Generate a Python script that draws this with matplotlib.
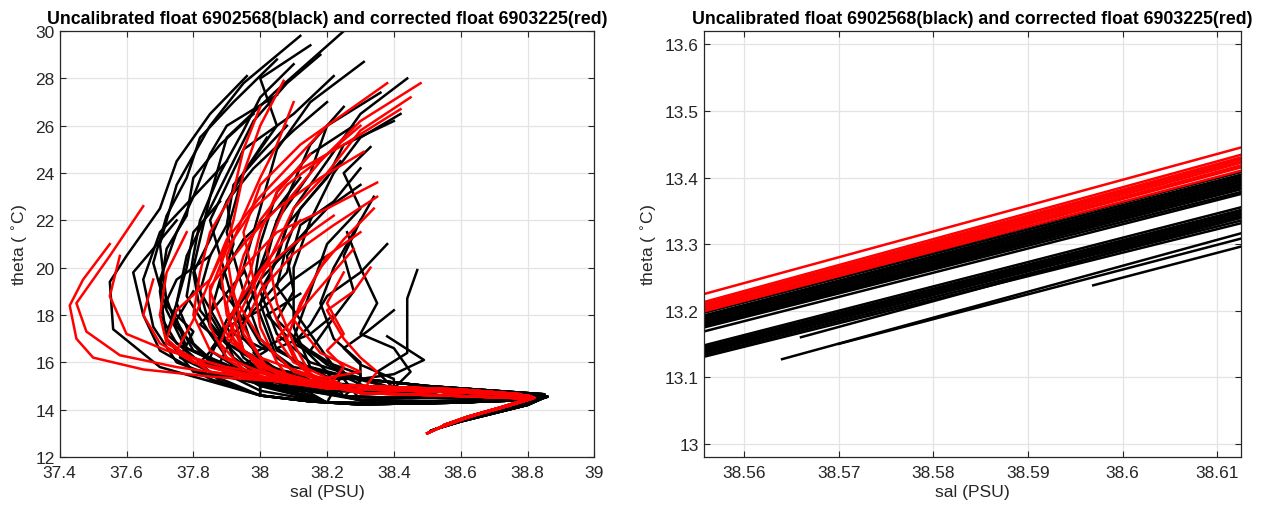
import numpy as np
import matplotlib.pyplot as plt
from matplotlib.ticker import FuncFormatter

plt.rcParams['font.family'] = ['Liberation Sans', 'DejaVu Sans']

# ---- deep tails (LIW core -> deep water), sal / theta pairs ----
tails_black = {
    'k1': [(38.35, 14.75), (38.55, 14.6), (38.75, 14.55), (38.85, 14.6), (38.80, 14.3), (38.68, 13.85), (38.58, 13.45), (38.51, 13.1)],
    'k2': [(38.30, 14.4), (38.50, 14.35), (38.70, 14.4), (38.84, 14.5), (38.78, 14.2), (38.66, 13.8), (38.57, 13.42), (38.52, 13.15)],
    'k3': [(38.25, 14.55), (38.45, 14.5), (38.65, 14.5), (38.82, 14.6), (38.76, 14.25), (38.65, 13.8), (38.56, 13.4)],
    'k4': [(38.40, 14.9), (38.60, 14.7), (38.80, 14.65), (38.86, 14.55), (38.79, 14.22), (38.67, 13.78), (38.58, 13.43)],
    'k5': [(38.20, 14.3), (38.40, 14.25), (38.60, 14.3), (38.80, 14.45), (38.83, 14.4), (38.74, 14.1), (38.62, 13.62)],
    'k6': [(38.00, 14.6), (38.15, 14.35), (38.30, 14.22), (38.50, 14.28), (38.70, 14.35), (38.84, 14.45), (38.80, 14.2), (38.70, 13.85), (38.60, 13.5), (38.53, 13.2)],
    'k7': [(38.30, 15.3), (38.50, 15.0), (38.70, 14.8), (38.85, 14.65), (38.80, 14.35), (38.68, 13.9)],
}
tails_red = {
    'r1': [(38.20, 14.9), (38.45, 14.8), (38.65, 14.7), (38.80, 14.6), (38.82, 14.5), (38.75, 14.2), (38.65, 13.8), (38.57, 13.45), (38.50, 13.0)],
    'r2': [(38.10, 15.1), (38.40, 14.95), (38.60, 14.85), (38.78, 14.65), (38.80, 14.45), (38.72, 14.1), (38.62, 13.7), (38.55, 13.35)],
    'r3': [(38.30, 14.7), (38.55, 14.6), (38.75, 14.5), (38.81, 14.45), (38.74, 14.15), (38.63, 13.72), (38.53, 13.2)],
}

# ---- upper parts of each profile (surface first) + tail key ----
black_profiles = [
    ([(38.25, 30.0), (38.05, 27.5), (37.90, 25.5), (37.85, 23.0), (37.80, 20.0), (37.85, 17.5), (37.95, 16.0), (38.10, 15.2)], 'k1'),
    ([(38.12, 29.8), (37.95, 27.8), (37.85, 26.0), (37.75, 23.5), (37.70, 21.0), (37.72, 18.5), (37.80, 16.5), (38.00, 15.3)], 'k2'),
    ([(38.15, 29.4), (38.00, 28.0), (38.05, 26.0), (37.95, 24.0), (37.90, 21.5), (37.95, 19.0), (38.00, 17.0), (38.10, 15.6)], 'k3'),
    ([(37.96, 28.1), (37.85, 26.5), (37.75, 24.5), (37.70, 22.5), (37.60, 20.5), (37.55, 19.4), (37.56, 17.4), (37.70, 15.8), (37.90, 15.0)], 'k6'),
    ([(38.31, 28.7), (38.15, 27.0), (38.05, 25.0), (38.00, 22.5), (37.95, 20.0), (38.00, 18.0), (38.05, 16.2), (38.15, 15.2)], 'k4'),
    ([(38.22, 28.1), (38.10, 26.5), (37.95, 25.0), (37.85, 22.0), (37.90, 19.5), (37.95, 17.0), (38.05, 15.5)], 'k5'),
    ([(38.44, 28.0), (38.30, 26.5), (38.20, 24.5), (38.10, 22.5), (38.05, 20.5), (38.00, 18.5), (38.05, 16.5), (38.20, 15.4)], 'k7'),
    ([(38.42, 26.5), (38.30, 25.5), (38.22, 24.0), (38.15, 22.0), (38.10, 20.0), (38.10, 17.5), (38.15, 15.8)], 'k4'),
    ([(38.33, 25.1), (38.25, 24.0), (38.30, 22.5), (38.20, 21.0), (38.15, 19.0), (38.10, 17.0), (38.20, 15.6)], 'k3'),
    ([(38.05, 27.3), (37.90, 26.0), (37.85, 24.8), (37.80, 23.0), (37.75, 21.5), (37.70, 19.5), (37.75, 17.5), (37.85, 16.0), (38.00, 15.1)], 'k5'),
    ([(37.90, 24.5), (37.80, 23.0), (37.70, 21.5), (37.65, 19.5), (37.68, 17.5), (37.75, 16.0), (37.90, 15.2)], 'k6'),
    ([(38.36, 27.4), (38.20, 26.0), (38.15, 24.0), (38.05, 22.0), (38.00, 20.0), (37.92, 18.0), (37.95, 16.5), (38.10, 15.3)], 'k1'),
    ([(38.30, 23.5), (38.20, 22.5), (38.10, 21.0), (38.00, 19.5), (37.95, 18.0), (38.00, 16.8), (38.10, 15.8)], 'k7'),
    ([(38.47, 19.9), (38.44, 18.7), (38.44, 16.4), (38.35, 15.6)], 'k4'),
    ([(38.38, 17.1), (38.49, 16.1), (38.40, 15.5)], 'k7'),
    ([(38.30, 22.0), (38.25, 20.5), (38.28, 19.0), (38.20, 17.5), (38.15, 16.5), (38.25, 15.6)], 'k5'),
    ([(38.20, 27.0), (38.10, 25.8), (37.98, 24.2), (37.90, 22.8), (37.85, 21.2), (37.80, 19.8), (37.82, 18.2), (37.90, 16.8), (38.05, 15.5)], 'k3'),
    ([(38.28, 26.0), (38.15, 24.8), (38.05, 23.2), (38.00, 21.0), (37.98, 19.2), (37.90, 17.8), (37.85, 16.2), (38.00, 15.0)], 'k1'),
    ([(37.75, 22.0), (37.68, 20.8), (37.62, 19.8), (37.65, 18.0), (37.70, 16.5), (37.85, 15.3)], 'k6'),
    ([(38.10, 28.6), (38.00, 27.2), (37.95, 25.8), (37.88, 24.0), (37.82, 22.0), (37.80, 20.5), (37.78, 18.8), (37.85, 17.2), (37.92, 15.8), (38.05, 15.0)], 'k5'),
    ([(38.24, 24.5), (38.15, 23.0), (38.08, 21.8), (38.05, 20.3), (38.00, 19.0), (38.05, 17.2), (38.15, 16.0)], 'k4'),
    ([(38.34, 23.0), (38.28, 21.5), (38.22, 20.0), (38.18, 18.5), (38.22, 17.0), (38.30, 16.0)], 'k7'),
    ([(37.98, 26.5), (37.88, 25.2), (37.80, 23.8), (37.78, 22.2), (37.72, 20.8), (37.70, 19.0), (37.72, 17.0), (37.80, 15.6)], 'k3'),
    ([(38.40, 26.2), (38.25, 25.2), (38.20, 23.8), (38.12, 22.5), (38.08, 21.0), (38.05, 19.2), (38.12, 17.8), (38.20, 16.2)], 'k2'),
    ([(37.85, 20.5), (37.75, 19.5), (37.70, 18.0), (37.75, 16.8), (37.90, 15.8), (38.05, 15.2)], 'k5'),
    ([(38.26, 21.5), (38.30, 20.0), (38.35, 18.5), (38.30, 17.2), (38.40, 16.6), (38.45, 15.6)], 'k4'),
    ([(38.18, 29.0), (38.08, 27.8), (37.98, 26.2), (37.92, 24.5), (37.85, 22.5), (37.78, 20.5), (37.75, 18.5), (37.80, 16.8), (37.90, 15.5), (38.00, 14.8)], 'k5'),
    ([(38.05, 28.8), (37.92, 27.0), (37.82, 25.5), (37.78, 23.8), (37.72, 22.2), (37.68, 20.2), (37.72, 18.2), (37.78, 16.5), (37.88, 15.2)], 'k6'),
    ([(38.30, 24.2), (38.22, 22.8), (38.12, 21.8), (38.08, 19.8), (38.00, 18.5), (37.92, 17.2), (37.88, 16.0), (38.00, 15.0)], 'k5'),
    ([(38.20, 20.5), (38.10, 19.5), (38.00, 18.2), (37.90, 17.5), (37.85, 16.5), (37.95, 15.6), (38.10, 14.9)], 'k2'),
    ([(38.12, 23.8), (38.05, 22.5), (37.95, 21.2), (37.88, 19.5), (37.85, 18.0), (37.90, 16.8), (38.02, 15.9), (38.15, 15.2)], 'k3'),
    ([(38.38, 21.0), (38.30, 19.8), (38.20, 18.8), (38.15, 17.6), (38.10, 16.8), (38.20, 16.0), (38.30, 15.5)], 'k7'),
    ([(37.80, 19.0), (37.75, 17.8), (37.78, 16.6), (37.90, 15.8), (38.00, 15.2)], 'k6'),
    ([(38.02, 25.5), (37.95, 24.0), (37.90, 22.8), (37.92, 21.0), (37.88, 19.2), (37.95, 17.8), (37.98, 16.5), (38.05, 15.4)], 'k1'),
    ([(38.15, 21.8), (38.08, 20.5), (38.10, 19.0), (38.05, 17.8), (38.12, 16.8), (38.20, 15.9), (38.30, 15.2)], 'k3'),
    ([(38.40, 18.2), (38.32, 17.3), (38.25, 16.6), (38.30, 15.9), (38.40, 15.3)], 'k4'),
    ([(38.25, 26.8), (38.15, 25.2), (38.10, 23.6), (38.05, 22.0), (38.02, 20.4), (37.95, 18.8), (37.90, 17.5), (37.95, 16.2), (38.05, 15.2)], 'k2'),
    ([(37.88, 22.8), (37.80, 21.5), (37.78, 20.0), (37.75, 18.5), (37.72, 17.2), (37.80, 16.2), (37.92, 15.5), (38.10, 14.8)], 'k1'),
    ([(38.08, 26.0), (38.00, 24.8), (37.92, 23.5), (37.90, 21.8), (37.85, 20.5), (37.82, 19.0), (37.88, 17.5), (37.92, 16.2), (38.00, 15.4)], 'k6'),
    ([(37.95, 19.8), (37.88, 18.6), (37.82, 17.6), (37.88, 16.9), (37.82, 16.0), (37.95, 15.5), (38.12, 15.0)], 'k2'),
    ([(38.12, 18.9), (38.02, 18.0), (38.08, 17.1), (37.98, 16.4), (38.05, 15.7), (38.20, 15.3)], 'k7'),
    ([(37.72, 18.4), (37.80, 17.3), (37.76, 16.2), (37.85, 15.6), (38.02, 15.0)], 'k5'),
    ([(38.22, 18.0), (38.15, 17.2), (38.05, 16.6), (38.12, 15.9), (38.25, 15.4)], 'k1'),
    ([(37.92, 17.2), (38.02, 16.5), (37.95, 15.9), (38.10, 15.4)], 'k3'),
]

red_profiles = [
    ([(37.55, 21.0), (37.47, 19.5), (37.43, 18.4), (37.45, 17.0), (37.50, 16.2), (37.65, 15.7), (37.85, 15.4), (38.05, 15.2)], 'r1'),
    ([(37.65, 22.6), (37.55, 20.5), (37.45, 18.5), (37.48, 17.3), (37.58, 16.3), (37.75, 15.8), (37.95, 15.4)], 'r2'),
    ([(37.58, 20.5), (37.55, 18.8), (37.60, 17.2), (37.72, 16.5), (37.90, 15.8), (38.10, 15.3)], 'r3'),
    ([(38.07, 27.9), (38.00, 26.0), (37.95, 24.0), (37.92, 22.0), (37.88, 20.0), (37.90, 18.0), (37.95, 16.5), (38.05, 15.5)], 'r1'),
    ([(38.38, 27.8), (38.25, 26.5), (38.12, 25.2), (38.00, 23.5), (37.95, 21.5), (37.98, 19.5), (38.00, 17.5), (38.05, 16.0)], 'r2'),
    ([(38.48, 27.8), (38.30, 26.2), (38.18, 24.5), (38.08, 22.8), (38.02, 20.8), (38.05, 18.5), (38.10, 16.8), (38.15, 15.5)], 'r3'),
    ([(38.42, 26.7), (38.25, 25.2), (38.10, 24.0), (37.98, 22.5), (37.90, 20.8), (37.85, 19.0), (37.90, 17.2), (38.00, 15.8)], 'r1'),
    ([(38.35, 23.6), (38.20, 22.5), (38.05, 21.5), (37.95, 20.0), (37.90, 18.5), (37.92, 17.0), (38.00, 15.7)], 'r2'),
    ([(38.35, 23.0), (38.22, 21.8), (38.10, 20.6), (38.00, 19.0), (37.95, 17.5), (38.00, 16.2)], 'r3'),
    ([(38.31, 24.9), (38.18, 23.8), (38.05, 22.5), (37.95, 21.0), (37.85, 19.2), (37.85, 17.5), (37.90, 16.2), (38.05, 15.3)], 'r1'),
    ([(38.00, 26.8), (37.95, 25.0), (37.92, 23.2), (37.85, 21.5), (37.82, 19.8), (37.80, 18.0), (37.85, 16.5), (37.98, 15.5)], 'r2'),
    ([(38.28, 20.8), (38.20, 19.5), (38.12, 18.2), (38.05, 17.0), (38.10, 16.0)], 'r3'),
    ([(38.25, 19.8), (38.20, 18.5), (38.25, 17.2), (38.20, 16.5), (38.25, 15.8)], 'r1'),
    ([(38.20, 26.0), (38.10, 24.5), (38.00, 23.0), (37.90, 21.2), (37.85, 19.5), (37.80, 17.8), (37.75, 16.5), (37.85, 15.6)], 'r2'),
    ([(38.15, 24.8), (38.05, 23.2), (38.00, 21.5), (37.97, 19.8), (37.92, 18.0), (37.95, 16.5), (38.05, 15.6)], 'r3'),
    ([(37.90, 21.0), (37.85, 19.5), (37.75, 18.2), (37.72, 17.0), (37.80, 16.0), (37.95, 15.4)], 'r1'),
    ([(38.30, 21.5), (38.20, 20.5), (38.15, 19.2), (38.10, 17.8), (38.18, 16.4), (38.30, 15.6)], 'r2'),
    ([(38.12, 22.0), (38.05, 20.8), (37.98, 19.5), (37.92, 18.2), (37.88, 16.8), (37.95, 15.7)], 'r3'),
    ([(38.34, 22.5), (38.25, 21.2), (38.18, 20.0), (38.12, 18.5), (38.08, 17.0), (38.12, 15.8)], 'r1'),
    ([(37.78, 21.5), (37.72, 19.8), (37.70, 18.0), (37.72, 16.8), (37.85, 15.8), (38.00, 15.3)], 'r2'),
    ([(38.30, 26.0), (38.20, 24.8), (38.08, 23.5), (38.00, 22.0), (37.95, 20.5), (37.92, 19.0), (37.95, 17.2), (38.02, 15.8)], 'r2'),
    ([(38.45, 27.2), (38.30, 25.8), (38.20, 24.0), (38.10, 22.5), (38.05, 21.0), (38.00, 19.5), (38.05, 17.8), (38.10, 16.2)], 'r1'),
    ([(38.10, 27.0), (38.05, 25.2), (38.00, 23.8), (37.95, 22.2), (37.90, 20.5), (37.92, 18.8), (38.00, 17.0), (38.10, 15.6)], 'r3'),
    ([(38.22, 22.2), (38.10, 21.0), (38.00, 19.8), (37.95, 18.4), (37.90, 17.0), (38.00, 15.9)], 'r1'),
    ([(37.68, 19.5), (37.65, 18.0), (37.70, 16.8), (37.80, 16.0), (38.00, 15.4)], 'r2'),
    ([(38.33, 20.0), (38.28, 19.0), (38.20, 18.2), (38.25, 17.0), (38.30, 16.2), (38.35, 15.6)], 'r3'),
]

# ---- zoomed panel: (sal0, theta0, sal1, theta1) ----
zoom_red = [
    (38.555, 13.222, 38.613, 13.447), (38.555, 13.210, 38.613, 13.436),
    (38.555, 13.207, 38.613, 13.432), (38.555, 13.205, 38.613, 13.430),
    (38.555, 13.203, 38.613, 13.427), (38.555, 13.200, 38.613, 13.424),
    (38.555, 13.199, 38.613, 13.420), (38.555, 13.197, 38.613, 13.417),
    (38.555, 13.196, 38.613, 13.412),
]
zoom_black = [
    (38.555, 13.197, 38.613, 13.410), (38.555, 13.194, 38.613, 13.406),
    (38.555, 13.190, 38.613, 13.403), (38.555, 13.188, 38.613, 13.400),
    (38.555, 13.185, 38.613, 13.397), (38.555, 13.183, 38.613, 13.395),
    (38.555, 13.180, 38.613, 13.392), (38.555, 13.178, 38.613, 13.390),
    (38.555, 13.176, 38.613, 13.387), (38.555, 13.174, 38.613, 13.384),
    (38.555, 13.172, 38.613, 13.380), (38.555, 13.166, 38.613, 13.377),
    (38.555, 13.145, 38.613, 13.357), (38.555, 13.142, 38.613, 13.353),
    (38.555, 13.140, 38.613, 13.350), (38.555, 13.138, 38.613, 13.347),
    (38.555, 13.136, 38.613, 13.344), (38.555, 13.134, 38.613, 13.341),
    (38.555, 13.131, 38.613, 13.337), (38.555, 13.128, 38.613, 13.333),
    (38.566, 13.160, 38.613, 13.342), (38.564, 13.127, 38.613, 13.318),
    (38.5969, 13.238, 38.613, 13.298), (38.570, 13.150, 38.613, 13.310),
]

title = 'Uncalibrated float 6902568(black) and corrected float 6903225(red)'
axis_col = '#262626'

fig = plt.figure(figsize=(12.7, 5.1), dpi=100)
ax1 = fig.add_axes([0.047, 0.102, 0.421, 0.835])
ax2 = fig.add_axes([0.554, 0.102, 0.423, 0.835])

def style(ax):
    ax.grid(True, color='#e3e3e3', lw=0.9)
    ax.set_axisbelow(True)
    ax.tick_params(direction='in', top=True, right=True, labelsize=12.5,
                   colors=axis_col, length=4)
    ax.tick_params(axis='x', pad=6)
    for s in ax.spines.values():
        s.set_color(axis_col)
        s.set_linewidth(0.9)
    ax.set_title(title, fontsize=12.8, fontweight='bold', pad=6)
    ax.set_xlabel('sal (PSU)', fontsize=12.6, color=axis_col, labelpad=3)
    ax.set_ylabel(r'theta ( $^{\circ}$C)', fontsize=12.6, color=axis_col)

# left panel: full profiles
for upper, key in black_profiles:
    pts = np.array(upper + tails_black[key])
    ax1.plot(pts[:, 0], pts[:, 1], color='black', lw=1.8)
for upper, key in red_profiles:
    pts = np.array(upper + tails_red[key])
    ax1.plot(pts[:, 0], pts[:, 1], color='red', lw=1.8)
ax1.set_xlim(37.4, 39)
ax1.set_ylim(12, 30)
ax1.set_xticks(np.arange(37.4, 39.01, 0.2))
ax1.set_yticks(np.arange(12, 30.1, 2))
ax1.xaxis.set_major_formatter(FuncFormatter(lambda v, p: '%g' % round(v, 2)))
style(ax1)

# right panel: zoom on deep water
for s0, t0, s1, t1 in zoom_black:
    ax2.plot([s0, s1], [t0, t1], color='black', lw=1.8)
for s0, t0, s1, t1 in zoom_red:
    ax2.plot([s0, s1], [t0, t1], color='red', lw=1.8)
ax2.set_xlim(38.5557, 38.6125)
ax2.set_ylim(12.98, 13.62)
ax2.set_xticks([38.56, 38.57, 38.58, 38.59, 38.60, 38.61])
ax2.set_yticks(np.arange(13.0, 13.61, 0.1))
ax2.xaxis.set_major_formatter(FuncFormatter(lambda v, p: '%g' % round(v, 3)))
ax2.yaxis.set_major_formatter(FuncFormatter(lambda v, p: '%g' % round(v, 2)))
style(ax2)

fig.savefig('out.png', dpi=100)
